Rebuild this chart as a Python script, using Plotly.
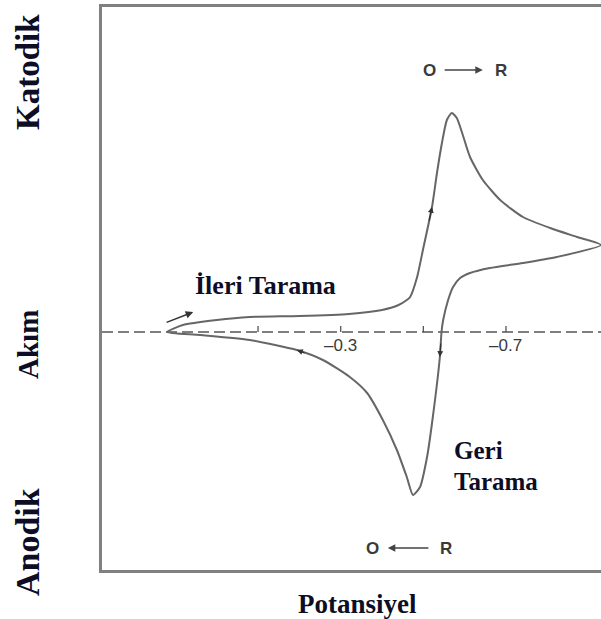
import plotly.graph_objects as go

# ---- data (potential in V, current in arbitrary units) ----
forward_E = [0.120, 0.082, 0.000, -0.080, -0.200, -0.320, -0.400, -0.440, -0.460, -0.468,
             -0.485, -0.499, -0.521, -0.533, -0.545, -0.557, -0.569, -0.581, -0.594,
             -0.613, -0.644, -0.686, -0.741, -0.807, -0.872, -0.930]
forward_I = [0.00, 0.07, 0.12, 0.15, 0.16, 0.18, 0.22, 0.27, 0.32, 0.35,
             0.55, 0.82, 1.25, 1.59, 1.89, 2.12, 2.19, 2.14, 1.99,
             1.75, 1.52, 1.32, 1.15, 1.04, 0.95, 0.87]
reverse_E = [-0.930, -0.823, -0.741, -0.661, -0.613, -0.589, -0.572, -0.560, -0.548, -0.544,
             -0.540, -0.523, -0.509, -0.492, -0.475, -0.460, -0.436, -0.402, -0.364,
             -0.322, -0.257, -0.194, -0.080, 0.040, 0.120]
reverse_I = [0.87, 0.75, 0.69, 0.64, 0.59, 0.54, 0.45, 0.32, 0.12, 0.00,
             -0.25, -0.85, -1.25, -1.55, -1.63, -1.45, -1.18, -0.88, -0.61,
             -0.45, -0.28, -0.18, -0.08, -0.03, 0.00]

tick_E = [-0.1, -0.3, -0.5, -0.7]
tick_labels = ["", "\u20130.3", "", "\u20130.7"]

x_range = [0.2777, -0.930]
y_range = [-2.38, 3.25]

curve_color = "#666666"
text_dark = "#0d0d26"

fig = go.Figure()

# zero (potential) axis, dashed
fig.add_trace(go.Scatter(x=x_range, y=[0, 0], mode="lines",
                         line=dict(color="#555555", width=1.6, dash="11px,5px"),
                         hoverinfo="skip", showlegend=False))

# CV curve
fig.add_trace(go.Scatter(x=forward_E + reverse_E[1:], y=forward_I + reverse_I[1:],
                         mode="lines",
                         line=dict(color=curve_color, width=2, shape="spline", smoothing=0.6),
                         hoverinfo="skip", showlegend=False))

shapes = []
for e in tick_E:
    shapes.append(dict(type="line", xref="x", yref="y", x0=e, x1=e,
                       ysizemode="pixel", yanchor=0, y0=0, y1=6,
                       line=dict(color="#555555", width=1.3)))

ann = []
for e, lab in zip(tick_E, tick_labels):
    if lab:
        ann.append(dict(x=e, y=-0.13, xref="x", yref="y", text=lab, showarrow=False,
                        font=dict(family="Liberation Sans, Arial", size=17, color="#3a3a3a")))

# arrowheads along the curve
def arrow(E, I, i_head, i_tail, frac=0.35):
    # short arrow: tail placed part-way back toward the previous point
    tx = E[i_head] + (E[i_tail] - E[i_head]) * frac
    ty = I[i_head] + (I[i_tail] - I[i_head]) * frac
    return dict(x=E[i_head], y=I[i_head], ax=tx, ay=ty,
                xref="x", yref="y", axref="x", ayref="y", text="", showarrow=True,
                arrowhead=2, arrowsize=0.9, arrowwidth=1.3, arrowcolor="#333333",
                standoff=0, startstandoff=0)

ann.append(arrow(forward_E, forward_I, 12, 11))
ann.append(arrow(reverse_E, reverse_I, 10, 9, 0.6))
ann.append(arrow(reverse_E, reverse_I, 21, 20))

# forward scan start arrow
start_arrow_E = [0.125, 0.057]
start_arrow_I = [0.09, 0.20]
ann.append(dict(x=start_arrow_E[1], y=start_arrow_I[1], ax=start_arrow_E[0], ay=start_arrow_I[0],
                xref="x", yref="y", axref="x", ayref="y", text="", showarrow=True,
                arrowhead=2, arrowsize=1.0, arrowwidth=1.5, arrowcolor="#333333",
                standoff=0, startstandoff=0))

# O -> R (top) and O <- R (bottom)
sans = dict(family="Liberation Sans, Arial", size=17, color="#3a3a3a")
ann.append(dict(x=-0.515, y=2.62, xref="x", yref="y", text="<b>O</b>", showarrow=False, font=sans))
ann.append(dict(x=-0.688, y=2.62, xref="x", yref="y", text="<b>R</b>", showarrow=False, font=sans))
ann.append(dict(x=-0.644, y=2.62, ax=-0.548, ay=2.62, xref="x", yref="y", axref="x", ayref="y",
                text="", showarrow=True, arrowhead=2, arrowsize=1, arrowwidth=1.5,
                arrowcolor="#444444", standoff=0, startstandoff=0))
ann.append(dict(x=-0.377, y=-2.16, xref="x", yref="y", text="<b>O</b>", showarrow=False, font=sans))
ann.append(dict(x=-0.556, y=-2.16, xref="x", yref="y", text="<b>R</b>", showarrow=False, font=sans))
ann.append(dict(x=-0.414, y=-2.16, ax=-0.516, ay=-2.16, xref="x", yref="y", axref="x", ayref="y",
                text="", showarrow=True, arrowhead=2, arrowsize=1, arrowwidth=1.5,
                arrowcolor="#444444", standoff=0, startstandoff=0))

serif_b = dict(family="Liberation Serif, Times New Roman", size=26, color=text_dark)
ann.append(dict(x=0.057, y=0.47, xref="x", yref="y", xanchor="left", yanchor="middle",
                text="<b>\u0130leri Tarama</b>", showarrow=False, font=serif_b))
serif_g = dict(family="Liberation Serif, Times New Roman", size=25, color=text_dark)
ann.append(dict(x=-0.572, y=-1.18, xref="x", yref="y", xanchor="left", yanchor="middle",
                text="<b>Geri</b>", showarrow=False, font=serif_g, borderpad=0))
ann.append(dict(x=-0.572, y=-1.49, xref="x", yref="y", xanchor="left", yanchor="middle",
                text="<b>Tarama</b>", showarrow=False, font=serif_g, borderpad=0))

side_labels = ["Katodik", "Ak\u0131m", "Anodik"]
side_pos = [0.885, 0.40, 0.05]
side_sizes = [33, 29, 34]
for txt, py, sz in zip(side_labels, side_pos, side_sizes):
    ann.append(dict(x=-0.148, y=py, xref="paper", yref="paper", xanchor="center", yanchor="middle",
                    text=f"<b>{txt}</b>", textangle=-90, showarrow=False,
                    font=dict(family="Liberation Serif, Times New Roman", size=sz, color=text_dark)))
ann.append(dict(x=0.513, y=-0.060, xref="paper", yref="paper", xanchor="center", yanchor="middle",
                text="<b>Potansiyel</b>", showarrow=False,
                font=dict(family="Liberation Serif, Times New Roman", size=27, color=text_dark)))

fig.update_layout(
    width=601, height=619,
    margin=dict(l=102, r=0, t=7, b=49),
    paper_bgcolor="white", plot_bgcolor="white",
    shapes=shapes, annotations=ann,
    xaxis=dict(range=x_range, showgrid=False, zeroline=False, showticklabels=False, ticks="",
               showline=True, mirror=True, linecolor="#808080", linewidth=2.5),
    yaxis=dict(range=y_range, showgrid=False, zeroline=False, showticklabels=False, ticks="",
               showline=True, mirror=False, linecolor="#808080", linewidth=2.5),
)

fig.write_html("out.html")
